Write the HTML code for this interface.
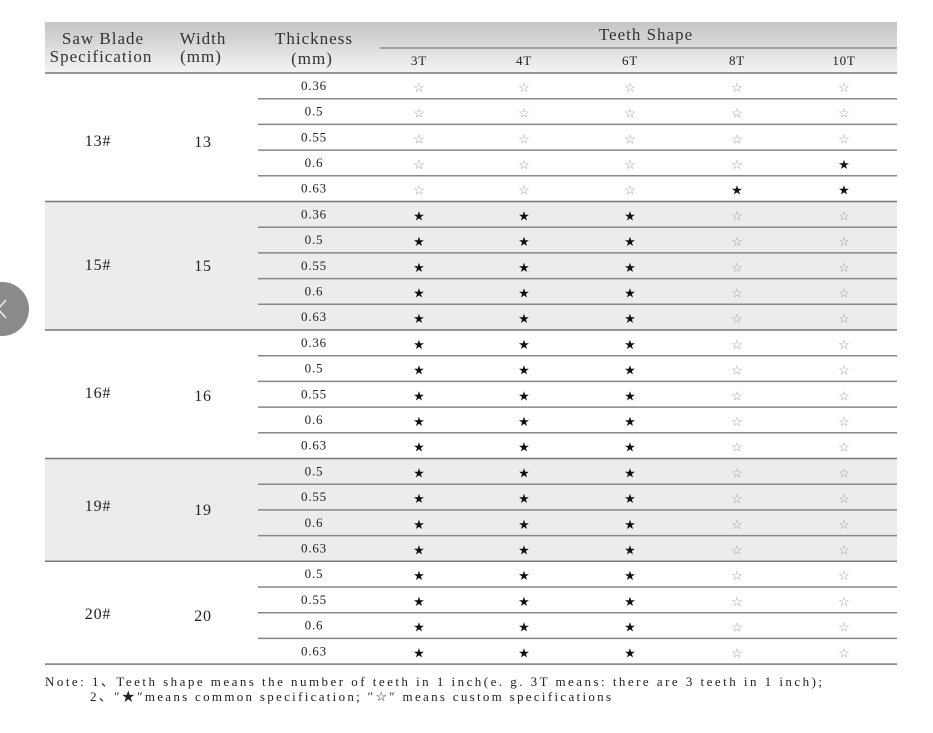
<!DOCTYPE html>
<html><head><meta charset="utf-8"><style>
html,body{margin:0;padding:0;background:#fff;width:933px;height:733px;overflow:hidden}
svg{display:block}
text{font-family:"Liberation Serif","DejaVu Serif",serif;fill:#222}
.v{font-size:13px;text-anchor:middle;letter-spacing:0.8px}
.s{font-size:13px;text-anchor:middle}
.h{font-size:17px;text-anchor:middle;fill:#333;letter-spacing:1px}
.g{font-size:16px;text-anchor:middle;letter-spacing:0.8px}
</style></head><body>
<svg width="933" height="733" viewBox="0 0 933 733">
<defs><linearGradient id="hg" x1="0" y1="0" x2="0" y2="1"><stop offset="0" stop-color="#c4c4c6"/><stop offset="1" stop-color="#f4f4f4"/></linearGradient></defs>
<rect x="45" y="22" width="852" height="51" fill="url(#hg)"/>
<rect x="45" y="202" width="852" height="128" fill="#ebecee"/>
<rect x="45" y="458" width="852" height="103" fill="#ebecee"/>
<line x1="380" y1="48" x2="897" y2="48" stroke="#666" stroke-width="1"/>
<text class="h" x="103" y="44">Saw Blade</text><text class="h" x="101" y="62">Specification</text>
<text class="h" x="203" y="44">Width</text><text class="h" x="201" y="62">(mm)</text>
<text class="h" x="314" y="44">Thickness</text><text class="h" x="312" y="64">(mm)</text>
<text class="h" x="646" y="40">Teeth Shape</text>
<g><text class="v" x="419" y="65">3T</text><text class="v" x="524" y="65">4T</text><text class="v" x="630" y="65">6T</text><text class="v" x="737" y="65">8T</text><text class="v" x="844" y="65">10T</text></g>
<g id="rows"></g>
<text class="g" x="98" y="146">13#</text><text class="g" x="203" y="147">13</text>
<text class="g" x="98" y="270">15#</text><text class="g" x="203" y="271">15</text>
<text class="g" x="98" y="398">16#</text><text class="g" x="203" y="401">16</text>
<text class="g" x="98" y="511">19#</text><text class="g" x="203" y="515">19</text>
<text class="g" x="98" y="619">20#</text><text class="g" x="203" y="621">20</text>
<circle cx="2" cy="309" r="27" fill="#8a8a8a"/>
<polyline points="6,300 -2,309 6,318" fill="none" stroke="#eee" stroke-width="1.5"/>
<text x="45" y="686" textLength="777" lengthAdjust="spacing" style="font-size:13px">Note: 1、Teeth shape means the number of teeth in 1 inch(e. g.  3T  means: there are 3 teeth in 1 inch);</text>
<text x="90" y="701" textLength="521" lengthAdjust="spacing" style="font-size:13px">2、″★″means common specification; ″☆″ means custom specifications</text>
</svg>
<script>
var g=document.getElementById('rows');
var groups=[['0.36','0.5','0.55','0.6','0.63'],['0.36','0.5','0.55','0.6','0.63'],['0.36','0.5','0.55','0.6','0.63'],['0.5','0.55','0.6','0.63'],['0.5','0.55','0.6','0.63']];
var xs=[419,524,630,737,844],h=25.7,y=73,html='';
function ln(x1,y1,x2,c){html+='<line x1="'+x1+'" y1="'+y1+'" x2="'+x2+'" y2="'+y1+'" stroke="'+c+'" stroke-width="1.5"/>';}
ln(45,73,897,'#777');
groups.forEach(function(gr,gi){gr.forEach(function(t,ri){
 var cy=y+h/2;
 html+='<text class="v" x="314" y="'+(cy+4)+'">'+t+'</text>';
 xs.forEach(function(x,ci){var f;
  if(gi==0){f=(ri==3&&ci==4)||(ri==4&&ci>=3);}else f=ci<3;
  html+='<text class="s" x="'+x+'" y="'+(cy+6)+'" style="fill:'+(f?'#111':'#999')+'">'+(f?'★':'☆')+'</text>';});
 y+=h;
 if(ri<gr.length-1) ln(258,y,897,'#888'); else ln(45,y,897,'#777');
});});
g.innerHTML=html;
</script>
</body></html>
